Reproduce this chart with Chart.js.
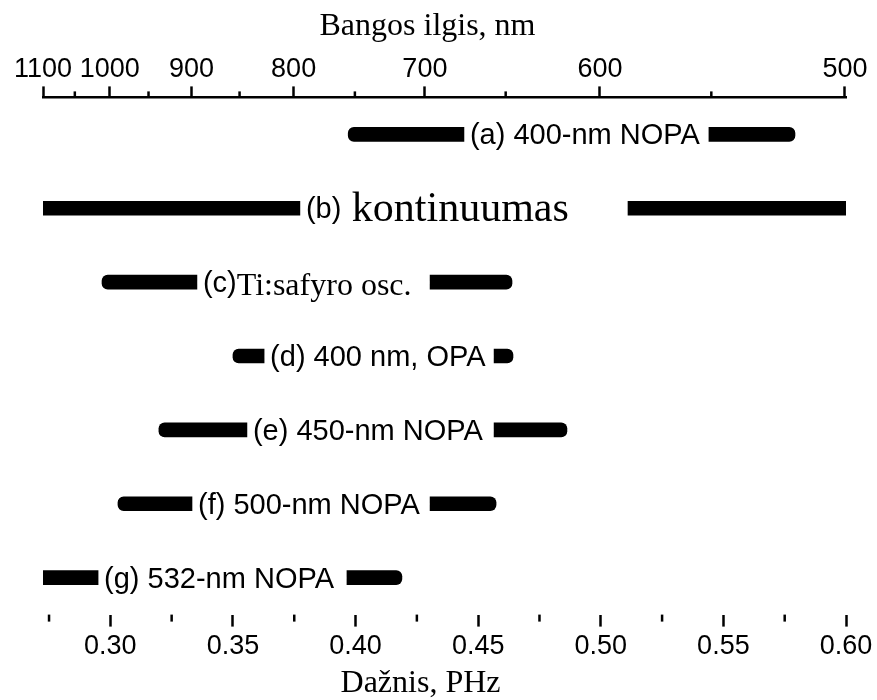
<!DOCTYPE html>
<html>
<head>
<meta charset="utf-8">
<title>Dažnis, PHz</title>
<script src="https://cdn.jsdelivr.net/npm/chart.js@4/dist/chart.umd.min.js"></script>
<style>
  html, body { margin: 0; padding: 0; background: #fff; }
  canvas { display: block; }
</style>
</head>
<body>
<canvas id="bands" width="877" height="700"></canvas>
<script>
// speed of light in nm·PHz, converts wavelength <-> frequency
const C_NM_PHZ = 299.792

// one row per source, each drawn as two segments with its name in between (PHz)
const rows = ['a', 'b', 'c', 'd', 'e', 'f', 'g']
const sansLabels = ['(a) 400-nm NOPA', '(b)', '(c)', '(d) 400 nm, OPA', '(e) 450-nm NOPA', '(f) 500-nm NOPA', '(g) 532-nm NOPA']
const serifLabels = ['', ' kontinuumas', 'Ti:safyro osc.', '', '', '', '']
const leftFrom = [0.397, 0.2725, 0.2966, 0.350, 0.3198, 0.3031, 0.2725]
const leftTo = [0.4442, 0.3773, 0.3353, 0.3627, 0.3557, 0.3333, 0.2950]
const rightFrom = [0.5441, 0.5111, 0.4304, 0.4565, 0.4565, 0.4304, 0.3965]
const rightTo = [0.5792, 0.600, 0.4638, 0.4642, 0.4862, 0.4573, 0.4189]

const freqTicks = [0.30, 0.35, 0.40, 0.45, 0.50, 0.55, 0.60]
const freqMinor = [0.275, 0.325, 0.375, 0.425, 0.475, 0.525, 0.575]
const waveTicks = [1100, 1000, 900, 800, 700, 600, 500]
const waveMinor = [1050, 950, 850, 750, 650, 550]

const topTitle = 'Bangos ilgis, nm'
const bottomTitle = 'Dažnis, PHz'

const freqMin = C_NM_PHZ / 1100
const freqMax = 0.60

const serifSize = { b: 42, c: 32 }
const sansFont = '"Liberation Sans", Arial, sans-serif'
const serifFont = '"Liberation Serif", "Times New Roman", serif'

// square ends where a segment runs into the edge of the axis
function outerRadius(ctx, side) {
  const v = ctx.raw
  if (!Array.isArray(v)) return 0
  if (side === 'left') {
    const r = v[0] > freqMin + 1e-4 ? 6 : 0
    return { topLeft: r, bottomLeft: r, topRight: 0, bottomRight: 0 }
  }
  const r = v[1] < freqMax - 1e-4 ? 6 : 0
  return { topLeft: 0, bottomLeft: 0, topRight: r, bottomRight: r }
}

const rowLabels = {
  id: 'rowLabels',
  afterDatasetsDraw(chart) {
    const { ctx, scales: { x, y } } = chart
    ctx.save()
    ctx.fillStyle = '#000'
    ctx.textAlign = 'left'
    ctx.textBaseline = 'alphabetic'
    rows.forEach((row, i) => {
      const py = y.getPixelForValue(i)
      let px = x.getPixelForValue(leftTo[i]) + 6
      ctx.font = '29px ' + sansFont
      ctx.fillText(sansLabels[i], px, py + 10)
      if (serifLabels[i]) {
        px += ctx.measureText(sansLabels[i]).width
        ctx.font = serifSize[row] + 'px ' + serifFont
        ctx.fillText(serifLabels[i], px, py + 13)
      }
    })
    ctx.restore()
  }
}

// short ticks between the labelled ones on both axes
const minorTicks = {
  id: 'minorTicks',
  afterDraw(chart) {
    const { ctx, scales: { x, x2 } } = chart
    ctx.save()
    ctx.strokeStyle = '#000'
    ctx.lineWidth = 2.5
    freqMinor.forEach((v) => {
      const px = x.getPixelForValue(v)
      ctx.beginPath()
      ctx.moveTo(px, x.top)
      ctx.lineTo(px, x.top + 7)
      ctx.stroke()
    })
    waveMinor.forEach((l) => {
      const px = x2.getPixelForValue(C_NM_PHZ / l)
      ctx.beginPath()
      ctx.moveTo(px, x2.bottom)
      ctx.lineTo(px, x2.bottom - 6)
      ctx.stroke()
    })
    ctx.restore()
  }
}

// axis titles sit a little left of the axis middle
const axisTitles = {
  id: 'axisTitles',
  afterDraw(chart) {
    const { ctx, chartArea } = chart
    const cx = (chartArea.left + chartArea.right) / 2 - 20
    ctx.save()
    ctx.fillStyle = '#000'
    ctx.textAlign = 'center'
    ctx.textBaseline = 'middle'
    ctx.font = '32px ' + serifFont
    ctx.fillText(topTitle, cx + 3, 27)
    ctx.fillText(bottomTitle, cx - 4, chart.height - 16)
    ctx.restore()
  }
}

new Chart(document.getElementById('bands'), {
  type: 'bar',
  data: {
    labels: rows,
    datasets: [
      {
        data: rows.map((r, i) => [leftFrom[i], leftTo[i]]),
        backgroundColor: '#000',
        borderWidth: 0,
        borderSkipped: false,
        grouped: false,
        barThickness: 14,
        borderRadius: (ctx) => outerRadius(ctx, 'left')
      },
      {
        data: rows.map((r, i) => [rightFrom[i], rightTo[i]]),
        backgroundColor: '#000',
        borderWidth: 0,
        borderSkipped: false,
        grouped: false,
        barThickness: 14,
        borderRadius: (ctx) => outerRadius(ctx, 'right')
      }
    ]
  },
  options: {
    indexAxis: 'y',
    responsive: false,
    animation: false,
    layout: { padding: { left: 43, right: 31, top: 52, bottom: 33 } },
    plugins: {
      legend: { display: false },
      tooltip: { enabled: false }
    },
    scales: {
      y: {
        display: false,
        grid: { display: false }
      },
      x: {
        type: 'linear',
        position: 'bottom',
        min: freqMin,
        max: freqMax,
        afterBuildTicks: (scale) => {
          scale.ticks = freqTicks.map((v) => ({ value: v }))
        },
        ticks: {
          autoSkip: false,
          maxRotation: 0,
          padding: 4,
          color: '#000',
          font: { family: sansFont, size: 27 },
          callback: (v) => Number(v).toFixed(2)
        },
        grid: {
          drawOnChartArea: false,
          drawTicks: true,
          tickLength: 12,
          tickWidth: 2.5,
          tickColor: '#000'
        },
        border: { display: false }
      },
      x2: {
        type: 'linear',
        position: 'top',
        min: freqMin,
        max: freqMax,
        afterBuildTicks: (scale) => {
          scale.ticks = waveTicks.map((l) => ({ value: C_NM_PHZ / l }))
        },
        ticks: {
          autoSkip: false,
          maxRotation: 0,
          padding: 1,
          color: '#000',
          font: { family: sansFont, size: 27 },
          callback: (v) => String(Math.round(C_NM_PHZ / v))
        },
        grid: {
          drawOnChartArea: false,
          drawTicks: true,
          tickLength: 11,
          tickWidth: 2.5,
          tickColor: '#000'
        },
        border: { display: true, color: '#000', width: 2.5 }
      }
    }
  },
  plugins: [rowLabels, minorTicks, axisTitles]
})
</script>
</body>
</html>
